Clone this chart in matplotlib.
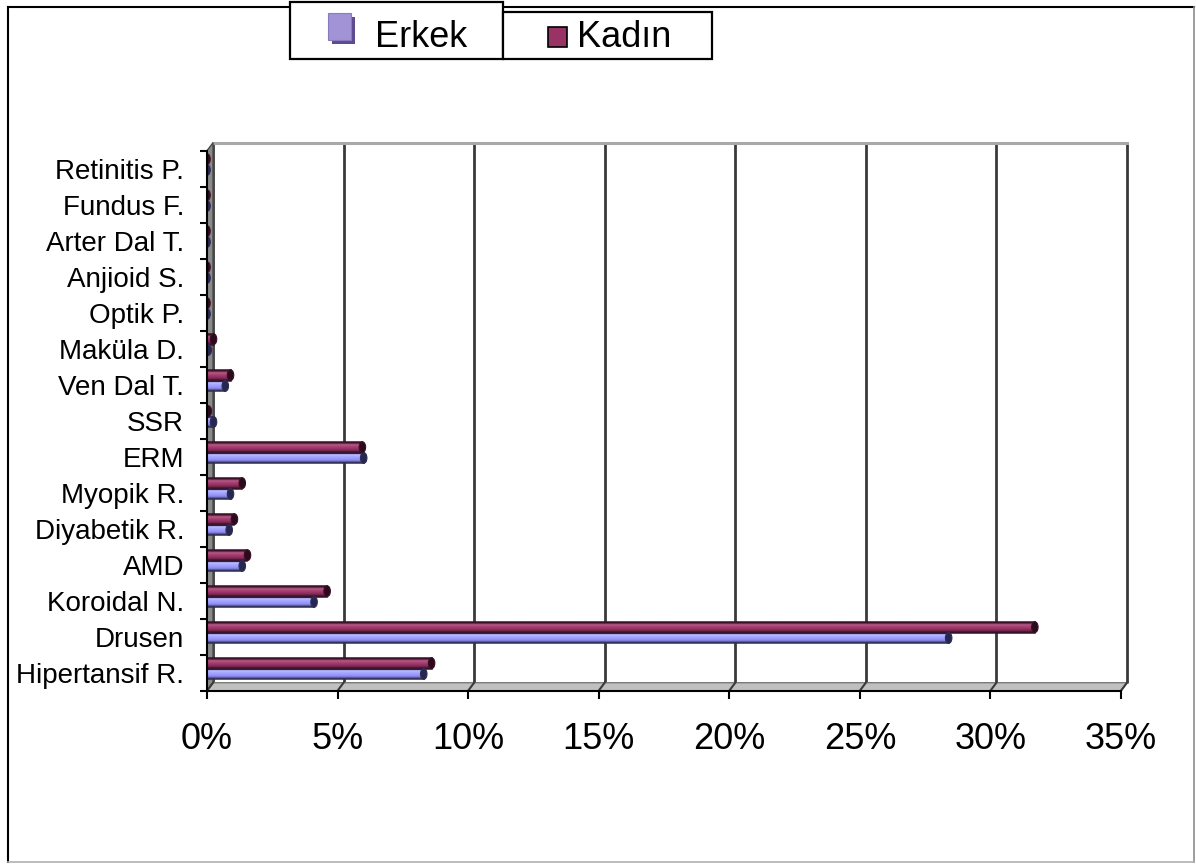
import numpy as np
import matplotlib
matplotlib.use("Agg")
import matplotlib.pyplot as plt
from matplotlib.patches import Rectangle, Ellipse, Polygon
from matplotlib.lines import Line2D
from matplotlib.colors import to_rgb

plt.rcParams['font.family'] = ['Liberation Sans', 'DejaVu Sans']

# ---- data (percent of patients) ----
categories = ["Hipertansif R.", "Drusen", "Koroidal N.", "AMD", "Diyabetik R.",
              "Myopik R.", "ERM", "SSR", "Ven Dal T.", "Maküla D.",
              "Optik P.", "Anjioid S.", "Arter Dal T.", "Fundus F.", "Retinitis P."]
erkek = [8.3, 28.4, 4.1, 1.35, 0.85, 0.9, 6.0, 0.25, 0.7, 0.05, 0.0, 0.0, 0.0, 0.0, 0.0]
kadin = [8.6, 31.7, 4.6, 1.55, 1.05, 1.35, 5.95, 0.05, 0.9, 0.25, 0.0, 0.0, 0.0, 0.0, 0.0]
series_names = ["Erkek", "Kadın"]
x_ticks = [0, 5, 10, 15, 20, 25, 30, 35]
x_tick_labels = ["0%", "5%", "10%", "15%", "20%", "25%", "30%", "35%"]

W, H = 1196, 865
fig = plt.figure(figsize=(W / 100, H / 100), dpi=100)
fig.patch.set_facecolor("white")


def frect(x0, y0, x1, y1):
    """Pixel box (top-left origin) -> figure-fraction (left, bottom, width, height)."""
    return x0 / W, 1 - y1 / H, (x1 - x0) / W, (y1 - y0) / H


def fline(xs, ys, **kw):
    fig.add_artist(Line2D([x / W for x in xs], [1 - y / H for y in ys],
                          transform=fig.transFigure, **kw))


def fbox(x0, y0, x1, y1, **kw):
    l, b, w, h = frect(x0, y0, x1, y1)
    fig.add_artist(Rectangle((l, b), w, h, transform=fig.transFigure, **kw))


# outer chart frame
fline([8, 8], [7, 862], color="black", lw=1.5)
fline([8, 1194], [7, 7], color="black", lw=1.5)
fline([1194, 1194], [7, 862], color="#8c8c8c", lw=1.2)
fline([8, 1194], [862, 862], color="#b0b0b0", lw=1.2)

# ---- plot area ----
ax = fig.add_axes(frect(207, 150.7, 1121, 690.7))
ax.set_facecolor("none")

nc = len(categories)
px_per_x = 914 / 35.0
px_per_y = 36.0
dx = 6 / px_per_x   # depth offset of the back wall
dy = 8 / px_per_y

# back wall gridlines and top edge
for t in x_ticks:
    ax.plot([t + dx, t + dx], [dy, nc + dy], color="#3a3a3a", lw=2.0,
            solid_capstyle="butt", zorder=1, clip_on=False)
ax.plot([dx, 35 + dx], [nc + dy, nc + dy], color="#a8a8a8", lw=2.2,
        zorder=1, clip_on=False)

# floor
ax.add_patch(Polygon([(0, 0), (35, 0), (35 + dx, dy), (dx, dy)], closed=True,
                     fc="#c0c0c0", ec="#7a7a7a", lw=1.0, zorder=2, clip_on=False))
for t in x_ticks:
    ax.plot([t, t + dx], [0, dy], color="#3a3a3a", lw=1.5, zorder=2.2, clip_on=False)

# left side wall
ax.add_patch(Polygon([(0, 0), (dx, dy), (dx, nc + dy), (0, nc)], closed=True,
                     fc="#8a8a8a", ec="#4a4a4a", lw=1.0, zorder=2, clip_on=False))

# ---- cylinder bars ----
bar_h = 0.3
styles = {
    "Erkek": dict(offset=0.315,
                  grad=["#3c3c72", "#b9b9ff", "#a8a8ff", "#9999ff", "#8a8ae8", "#44447a"],
                  edge="#2e2e55", cap="#262650"),
    "Kadın": dict(offset=0.615,
                  grad=["#4a1530", "#b8588a", "#a6426f", "#993366", "#7c2853", "#3a1026"],
                  edge="#3a1026", cap="#2a0a1c"),
}
cap_w = 6.5 / px_per_x

for name, vals in zip(series_names, [erkek, kadin]):
    st = styles[name]
    cols = np.array([to_rgb(c) for c in st["grad"]])[::-1]  # bottom -> top
    grad = cols.reshape(len(cols), 1, 3)
    for i, v in enumerate(vals):
        y0 = i + st["offset"]
        if v > 0:
            ax.imshow(grad, extent=[0, v, y0, y0 + bar_h], origin="lower",
                      aspect="auto", interpolation="bilinear", zorder=3)
            ax.add_patch(Rectangle((0, y0), v, bar_h, fill=False,
                                   ec=st["edge"], lw=1.1, zorder=3.1))
        ax.add_patch(Ellipse((v, y0 + bar_h / 2), cap_w, bar_h, fc=st["cap"],
                             ec=st["edge"], lw=0.8, zorder=3.2))

ax.set_xlim(0, 35)
ax.set_ylim(0, nc)

# ---- axes, ticks, labels ----
for s in ["top", "right"]:
    ax.spines[s].set_visible(False)
for s in ["left", "bottom"]:
    ax.spines[s].set_color("black")
    ax.spines[s].set_linewidth(1.5)
    ax.spines[s].set_zorder(4)

ax.set_xticks(x_ticks)
ax.set_xticklabels(x_tick_labels, fontsize=26)
ax.tick_params(axis="x", length=5.5, width=1.5, pad=17, colors="black", direction="out")

ax.set_yticks(np.arange(nc + 1))
ax.set_yticklabels([])
ax.set_yticks(np.arange(nc) + 0.5, minor=True)
ax.set_yticklabels(categories, minor=True, fontsize=20)
ax.tick_params(axis="y", which="major", length=5, width=1.5, direction="out")
ax.tick_params(axis="y", which="minor", length=0, pad=16.5)

# ---- legend ----
fbox(290, 2, 503, 59, fc="white", ec="black", lw=1.6, zorder=5)
fbox(503, 12, 712, 59, fc="white", ec="black", lw=1.6, zorder=5)
# Erkek key: raised square with shadow
fbox(332, 17, 355, 44, fc="#5e4a8e", ec="none", zorder=6)
fbox(328, 13, 351, 40, fc="#a293d6", ec="#8a7bc0", lw=0.8, zorder=6.1)
fig.text(375 / W, 1 - 47 / H, series_names[0], fontsize=26, ha="left",
         va="baseline", zorder=7)
# Kadın key
fbox(548, 27, 567, 47, fc="#993366", ec="black", lw=1.2, zorder=6)
fig.text(577 / W, 1 - 47 / H, series_names[1], fontsize=26, ha="left",
         va="baseline", zorder=7)

fig.savefig("out.png", dpi=100, facecolor="white")
